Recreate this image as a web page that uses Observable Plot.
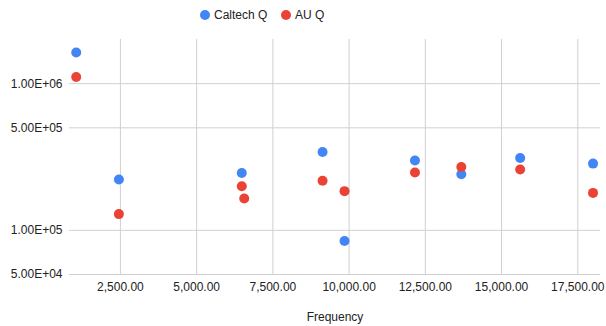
<!DOCTYPE html>
<html>
<head>
<meta charset="utf-8">
<script src="https://cdn.jsdelivr.net/npm/d3@7"></script>
<script src="https://cdn.jsdelivr.net/npm/@observablehq/plot@0.6"></script>
<style>
  body { margin: 0; background: #fff; font-family: "Liberation Sans", Arial, sans-serif; }
  #wrap { position: relative; width: 606px; height: 326px; }
  #legend { position: absolute; top: 0; left: 0; width: 606px; height: 30px; }
  .item { position: absolute; top: 8px; font-size: 12px; color: #222; line-height: 14px; white-space: nowrap; }
  .sw { display: inline-block; width: 10px; height: 10px; border-radius: 50%; vertical-align: -1px; margin-right: 4px; }
</style>
</head>
<body>
<div id="wrap">
  <div id="chart"></div>
  <div id="legend"></div>
</div>
<script>
const seriesNames = ["Caltech Q", "AU Q"];
const seriesColors = ["#4285F4", "#EA4335"];

const caltechFreq = [1050, 2450, 6480, 9130, 9850, 12160, 13680, 15610, 18000];
const caltechQ    = [1.63e6, 2.22e5, 2.46e5, 3.42e5, 8.46e4, 2.99e5, 2.41e5, 3.11e5, 2.85e5];

const auFreq = [1050, 2450, 6480, 6560, 9130, 9850, 12160, 13680, 15610, 18000];
const auQ    = [1.11e6, 1.29e5, 2.0e5, 1.65e5, 2.18e5, 1.85e5, 2.48e5, 2.7e5, 2.6e5, 1.8e5];

const xTicks = [2500, 5000, 7500, 10000, 12500, 15000, 17500];
const yTicks = [5e4, 1e5, 5e5, 1e6];
const xLabel = "Frequency";

const caltech = caltechFreq.map((f, i) => ({freq: f, q: caltechQ[i]}));
const au = auFreq.map((f, i) => ({freq: f, q: auQ[i]}));

function sci(v) {
  const e = Math.floor(Math.log10(v) + 1e-9);
  const m = v / Math.pow(10, e);
  const es = (e < 0 ? "-" : "+") + String(Math.abs(e)).padStart(2, "0");
  return m.toFixed(2) + "E" + es;
}

const chart = Plot.plot({
  width: 606,
  height: 326,
  marginTop: 39,
  marginBottom: 52,
  marginLeft: 69,
  marginRight: 6,
  style: {fontFamily: "'Liberation Sans', Arial, sans-serif", fontSize: "12px", color: "#222", background: "#fff"},
  x: {domain: [830, 18245]},
  y: {type: "log", domain: [5e4, 2e6]},
  marks: [
    Plot.ruleX(xTicks, {stroke: "#d0d0d0", strokeOpacity: 1}),
    Plot.ruleY(yTicks, {stroke: "#d0d0d0", strokeOpacity: 1}),
    Plot.axisX({ticks: xTicks, tickSize: 0, tickPadding: 8, tickFormat: d3.format(",.2f"), label: xLabel, labelAnchor: "center", labelArrow: "none", labelOffset: 46, fill: "#222"}),
    Plot.axisY({ticks: yTicks, tickSize: 0, tickPadding: 7, tickFormat: sci, label: null, fill: "#222"}),
    Plot.dot(caltech, {x: "freq", y: "q", r: 5, fill: seriesColors[0], stroke: "none"}),
    Plot.dot(au, {x: "freq", y: "q", r: 5, fill: seriesColors[1], stroke: "none"})
  ]
});
document.getElementById("chart").appendChild(chart);

const legend = document.getElementById("legend");
const lefts = [200, 281];
seriesNames.forEach((name, i) => {
  const d = document.createElement("div");
  d.className = "item";
  d.style.left = lefts[i] + "px";
  d.innerHTML = `<span class="sw" style="background:${seriesColors[i]}"></span>${name}`;
  legend.appendChild(d);
});
</script>
</body>
</html>
